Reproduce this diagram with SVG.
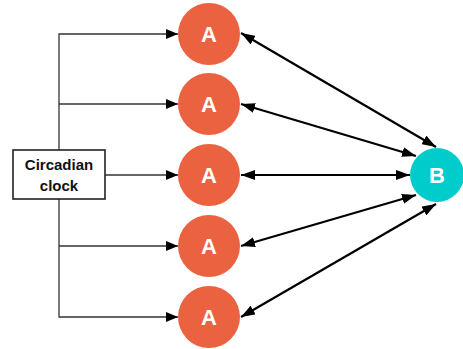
<svg xmlns="http://www.w3.org/2000/svg" width="463" height="349" viewBox="0 0 463 349">
<style>
.a{fill:#EA6240}
.b{fill:#00CCCC}
.lbl{font-family:"Liberation Sans",Arial,sans-serif;font-weight:bold;fill:#fff;font-size:22px;text-anchor:middle}
.box{fill:#fff;stroke:#222;stroke-width:1.6}
.bt{font-family:"Liberation Sans",Arial,sans-serif;font-weight:bold;fill:#111;font-size:15px;text-anchor:middle}
.thin{fill:none;stroke:#333;stroke-width:1.3}
.thick{fill:none;stroke:#000;stroke-width:2.2}
</style>
<defs>
<marker id="ah" viewBox="0 0 12 10" refX="12" refY="5" markerWidth="12" markerHeight="10" markerUnits="userSpaceOnUse" orient="auto">
<path d="M0,0 L12,5 L0,10 Z" fill="#000"/>
</marker>
<marker id="ah2" viewBox="0 0 14 10" refX="14" refY="5" markerWidth="14" markerHeight="10" markerUnits="userSpaceOnUse" orient="auto-start-reverse">
<path d="M0,0 L14,5 L0,10 Z" fill="#000"/>
</marker>
</defs>
<g id="connectors">
<path class="thin" d="M59,150 V34 H178" marker-end="url(#ah)"/>
<path class="thin" d="M59,104 H178" marker-end="url(#ah)"/>
<path class="thin" d="M105,175 H178" marker-end="url(#ah)"/>
<path class="thin" d="M59,199 V317 H178" marker-end="url(#ah)"/>
<path class="thin" d="M59,246 H178" marker-end="url(#ah)"/>
<path class="thick" d="M241,33 L436,147" marker-start="url(#ah2)" marker-end="url(#ah2)"/>
<path class="thick" d="M241,104 L416,156" marker-start="url(#ah2)" marker-end="url(#ah2)"/>
<path class="thick" d="M241,175 L410,175" marker-start="url(#ah2)" marker-end="url(#ah2)"/>
<path class="thick" d="M241,246 L416,195" marker-start="url(#ah2)" marker-end="url(#ah2)"/>
<path class="thick" d="M241,317 L436,204" marker-start="url(#ah2)" marker-end="url(#ah2)"/>
</g>
<g id="clock">
<rect class="box" x="13" y="150" width="92" height="49"/>
<text class="bt" x="59" y="170">Circadian</text>
<text class="bt" x="59" y="191">clock</text>
</g>
<g id="A1"><circle class="a" cx="209" cy="34" r="31"/><text class="lbl" x="209" y="42">A</text></g>
<g id="A2"><circle class="a" cx="209" cy="104" r="31"/><text class="lbl" x="209" y="112">A</text></g>
<g id="A3"><circle class="a" cx="209" cy="175" r="31"/><text class="lbl" x="209" y="183">A</text></g>
<g id="A4"><circle class="a" cx="209" cy="246" r="31"/><text class="lbl" x="209" y="254">A</text></g>
<g id="A5"><circle class="a" cx="209" cy="317" r="31"/><text class="lbl" x="209" y="325">A</text></g>
<g id="B"><circle class="b" cx="437" cy="175" r="27"/><text class="lbl" x="437" y="183">B</text></g>
</svg>
